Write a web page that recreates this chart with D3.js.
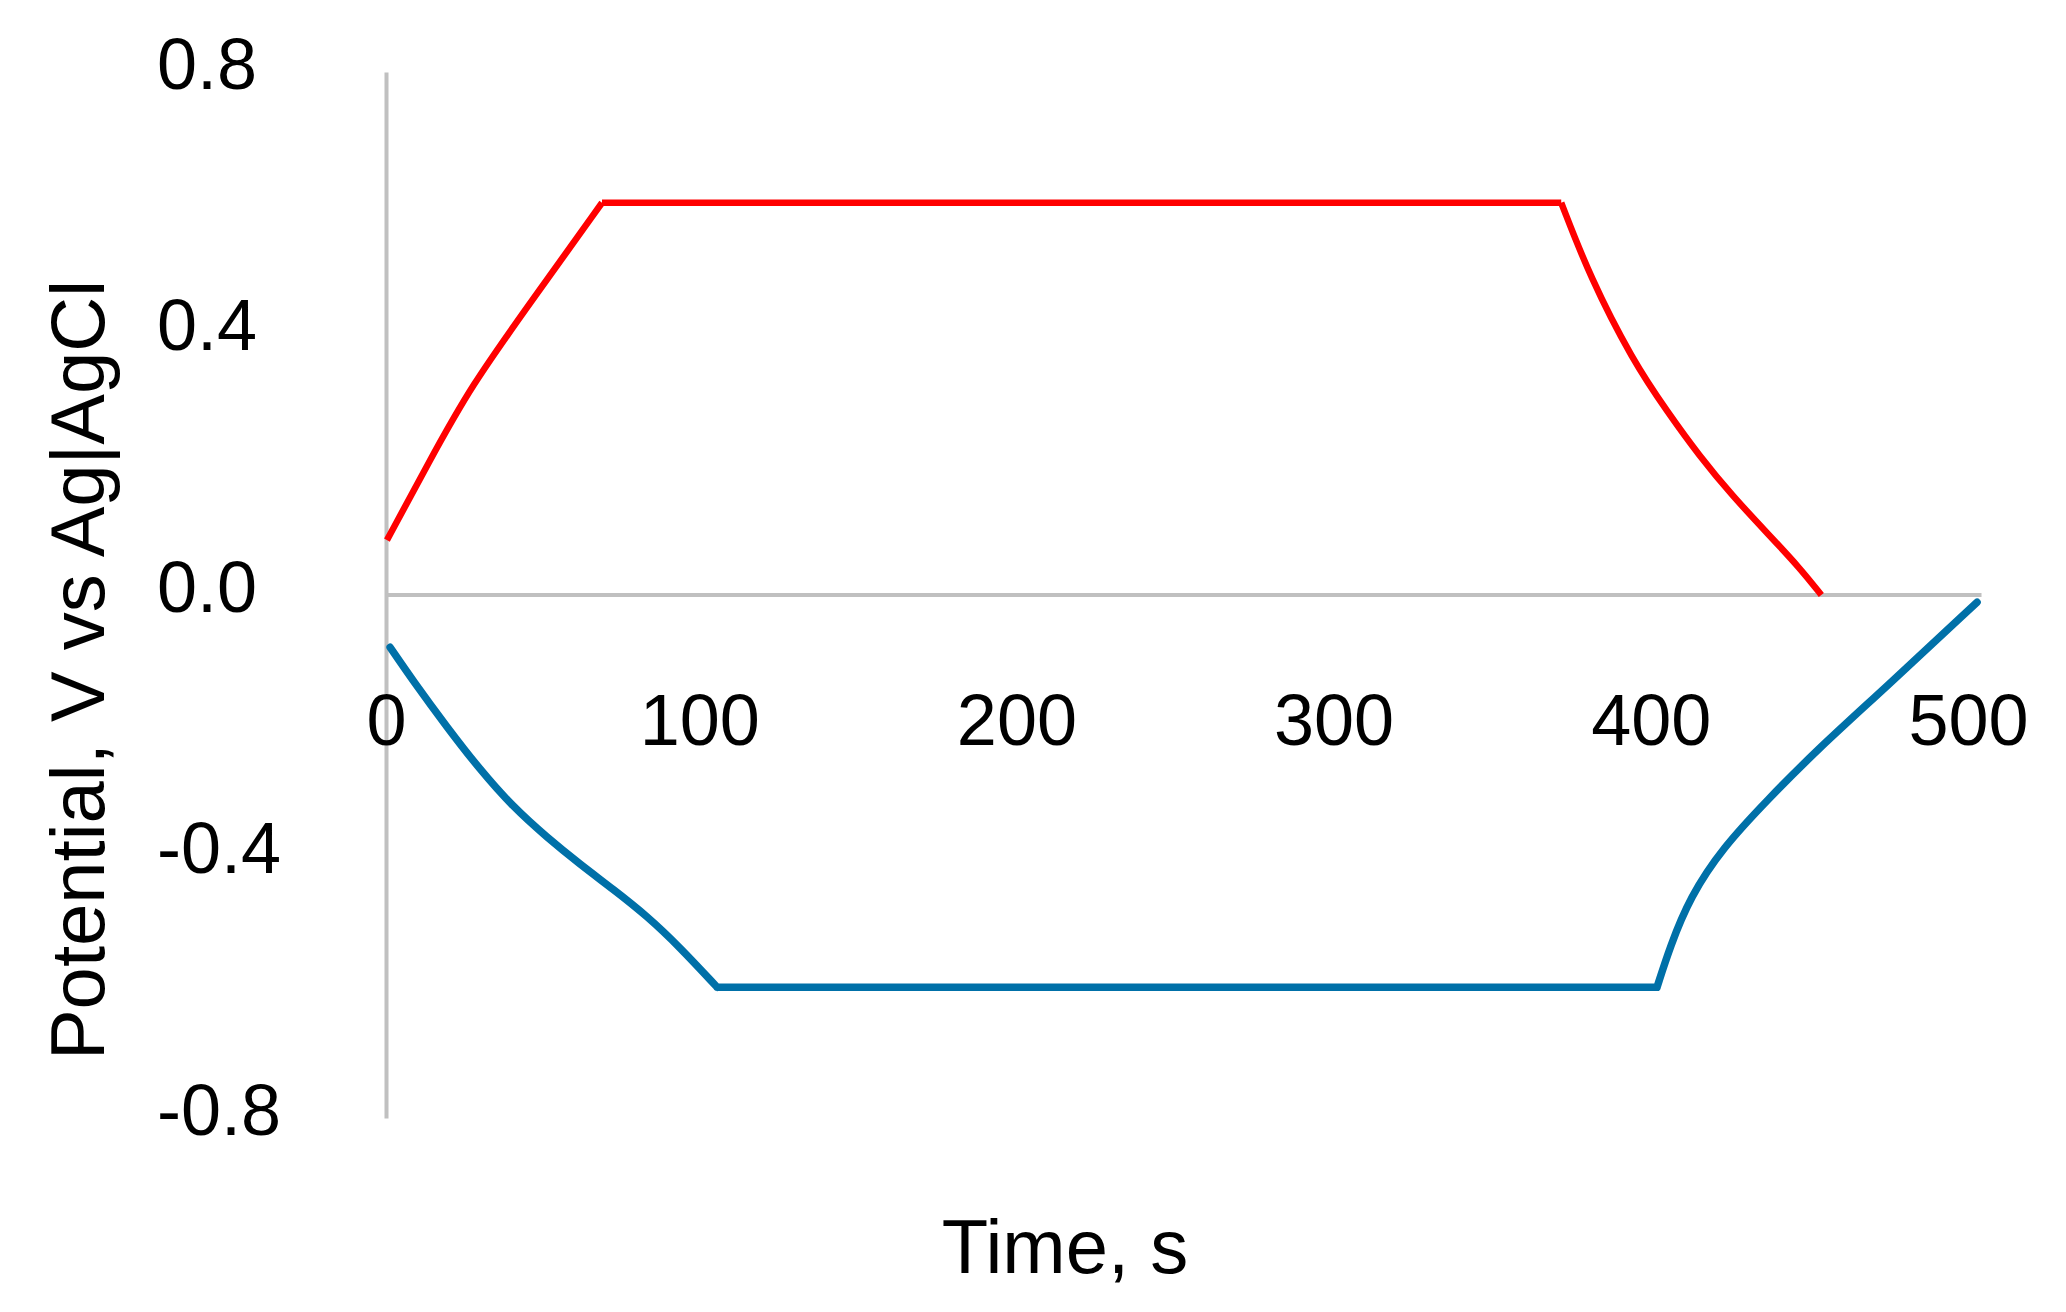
<!DOCTYPE html>
<html>
<head>
<meta charset="utf-8">
<script src="https://cdn.jsdelivr.net/npm/d3@7"></script>
<style>
  html, body { margin: 0; padding: 0; background: #fff; }
  text { font-family: "Liberation Sans", Arial, sans-serif; fill: #000; }
</style>
</head>
<body>
<div id="chart"></div>
<script>
// charge curve (red) - time in s, potential in V
var redTime      = [0.3, 13.2, 26.5, 47.3, 68.1, 370.5, 379.6, 393, 404, 414, 424.6, 435.4, 445.8, 452.5];
var redPotential = [0.084, 0.200, 0.318, 0.459, 0.600, 0.600, 0.486, 0.359, 0.280, 0.213, 0.151, 0.095, 0.041, 0.0];

// discharge curve (blue)
var blueTime      = [1.3, 8.5, 19.2, 29.6, 40, 50.8, 61.2, 71.6, 82.3, 92.7, 104.4, 400.7, 404.8, 411.1, 421.5, 435.4, 451.1, 472, 501.6];
var bluePotential = [-0.080, -0.131, -0.202, -0.267, -0.324, -0.371, -0.412, -0.450, -0.491, -0.539, -0.600, -0.600, -0.538, -0.462, -0.386, -0.314, -0.237, -0.145, -0.011];

var xTicks = [0, 100, 200, 300, 400, 500];
var yTicks = [0.8, 0.4, 0.0, -0.4, -0.8];

var width = 2066,
    height = 1312;

var svg = d3.select("#chart")
  .append("svg")
    .attr("width", width)
    .attr("height", height);

svg.append("rect")
  .attr("width", width)
  .attr("height", height)
  .attr("fill", "#fff");

var x = d3.scaleLinear()
  .domain([0, 500])
  .range([386, 1972]);

var y = d3.scaleLinear()
  .domain([-0.8, 0.8])
  .range([1118, 72]);

// y axis (vertical line at t = 0), labels left aligned far from the line
var yAxis = svg.append("g")
  .attr("transform", "translate(" + x(0) + ",0)")
  .call(d3.axisLeft(y)
    .tickValues(yTicks)
    .tickSize(0)
    .tickFormat(function(d) { return d.toFixed(1); }));

yAxis.select(".domain")
  .attr("stroke", "#c0c0c0")
  .attr("stroke-width", 4);

yAxis.selectAll("text")
  .attr("x", 157 - x(0))
  .attr("dy", 0)
  .attr("y", 16)
  .attr("text-anchor", "start")
  .style("font-size", "72px")
  .style("font-family", "'Liberation Sans', Arial, sans-serif");

// x axis sits on V = 0, labels well below it
var xAxis = svg.append("g")
  .attr("transform", "translate(0," + y(0) + ")")
  .call(d3.axisBottom(x)
    .tickValues(xTicks)
    .tickSize(0)
    .tickSizeOuter(0)
    .tickFormat(d3.format("d")));

xAxis.select(".domain")
  .attr("d", "M" + x(0) + ",0H" + x(503))
  .attr("stroke", "#c0c0c0")
  .attr("stroke-width", 4);

xAxis.selectAll("text")
  .attr("y", 150)
  .attr("dy", 0)
  .attr("dx", function(d) { return d == 0 ? 0 : -4; })
  .style("font-size", "72px")
  .style("font-family", "'Liberation Sans', Arial, sans-serif");

// smooth the hand-read points, but keep the plateau corners sharp
var line = d3.line()
  .curve(d3.curveBasis)
  .x(function(d) { return x(d[0]); })
  .y(function(d) { return y(d[1]); });

function pieces(data) {
  var out = [], start = 0;
  for (var i = 1; i < data.length - 1; i++) {
    var flatBefore = data[i][1] == data[i - 1][1];
    var flatAfter = data[i][1] == data[i + 1][1];
    if (flatBefore != flatAfter) {
      out.push(data.slice(start, i + 1));
      start = i;
    }
  }
  out.push(data.slice(start));
  return out;
}

var redData = d3.zip(redTime, redPotential);
var blueData = d3.zip(blueTime, bluePotential);

svg.append("path")
  .attr("d", pieces(redData).map(function(p) { return line(p); }).join(""))
  .attr("fill", "none")
  .attr("stroke", "#ff0000")
  .attr("stroke-width", 6.5)
  .attr("stroke-linejoin", "round");

svg.append("path")
  .attr("d", pieces(blueData).map(function(p) { return line(p); }).join(""))
  .attr("fill", "none")
  .attr("stroke", "#0070a8")
  .attr("stroke-width", 7.5)
  .attr("stroke-linejoin", "round")
  .attr("stroke-linecap", "round");

// axis titles
svg.append("text")
  .attr("x", 1065)
  .attr("y", 1273)
  .attr("text-anchor", "middle")
  .style("font-size", "76px")
  .text("Time, s");

svg.append("text")
  .attr("transform", "translate(104,670) rotate(-90)")
  .attr("text-anchor", "middle")
  .style("font-size", "76px")
  .text("Potential, V vs Ag|AgCl");
</script>
</body>
</html>
